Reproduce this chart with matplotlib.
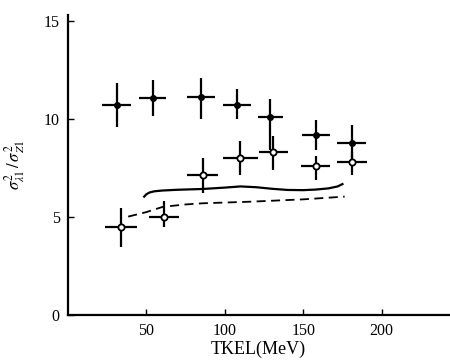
import matplotlib.pyplot as plt

plt.rcParams['font.family'] = ['Liberation Serif', 'DejaVu Serif']
plt.rcParams['mathtext.fontset'] = 'stix'

# filled points (upper series)
x_full = [31, 54, 85, 108, 129, 158, 181]
y_full = [10.7, 11.05, 11.1, 10.7, 10.1, 9.2, 8.8]
xerr_full = [9.5, 8.5, 8.8, 9.0, 8.0, 8.8, 9.3]
yerr_full_lo = [1.1, 0.9, 1.1, 0.7, 1.7, 0.8, 1.0]
yerr_full_hi = [1.15, 0.95, 1.0, 0.85, 0.9, 0.75, 0.9]

# open points (lower series)
x_open = [34, 61, 86, 110, 131, 158, 181]
y_open = [4.47, 5.02, 7.14, 8.03, 8.33, 7.6, 7.8]
xerr_open = [10.3, 9.5, 9.8, 11.0, 9.0, 9.3, 9.7]
yerr_open_lo = [1.0, 0.55, 0.9, 0.9, 0.95, 0.7, 0.65]
yerr_open_hi = [0.97, 0.78, 0.86, 0.87, 0.8, 0.5, 0.5]

# solid curve
x_solid = [48.6, 50, 52, 55, 60, 70, 86, 100, 110, 120, 130, 140, 150, 158, 166, 172, 175]
y_solid = [6.04, 6.16, 6.25, 6.31, 6.35, 6.39, 6.43, 6.5, 6.56, 6.52, 6.44, 6.38, 6.37, 6.4, 6.46, 6.56, 6.68]

# dashed curve
x_dash = [38.4, 50, 60.5, 75, 86, 116, 150, 176.4]
y_dash = [5.02, 5.25, 5.52, 5.64, 5.7, 5.78, 5.9, 6.04]

fig = plt.figure(figsize=(4.5, 3.6), dpi=100)
ax = fig.add_axes([0.151, 0.125, 0.847, 0.833])

ax.errorbar(x_full, y_full, xerr=xerr_full, yerr=[yerr_full_lo, yerr_full_hi],
            fmt='o', color='black', ms=4, elinewidth=1.6, capsize=0)
ax.errorbar(x_open, y_open, xerr=xerr_open, yerr=[yerr_open_lo, yerr_open_hi],
            fmt='o', color='black', mfc='white', mec='black', mew=1.3, ms=4.5,
            elinewidth=1.6, capsize=0)
ax.plot(x_solid, y_solid, color='black', lw=1.6)
ax.plot(x_dash, y_dash, color='black', lw=1.3, ls=(0, (5, 3)))

ax.set_xlim(0, 243)
ax.set_ylim(0, 15.3)
ax.set_xticks([50, 100, 150, 200])
ax.set_yticks([0, 5, 10, 15])
ax.spines['top'].set_visible(False)
ax.spines['right'].set_visible(False)
ax.spines['left'].set_linewidth(1.6)
ax.spines['bottom'].set_linewidth(1.6)
ax.tick_params(direction='in', length=4, width=1, labelsize=11.5, pad=6)

ax.set_xlabel('TKEL(MeV)', fontsize=13, labelpad=1)
ax.set_ylabel(r'$\sigma^2_{\lambda 1}\,/\,\sigma^2_{Z1}$', fontsize=12, labelpad=12)

fig.savefig('out.png', dpi=100)
